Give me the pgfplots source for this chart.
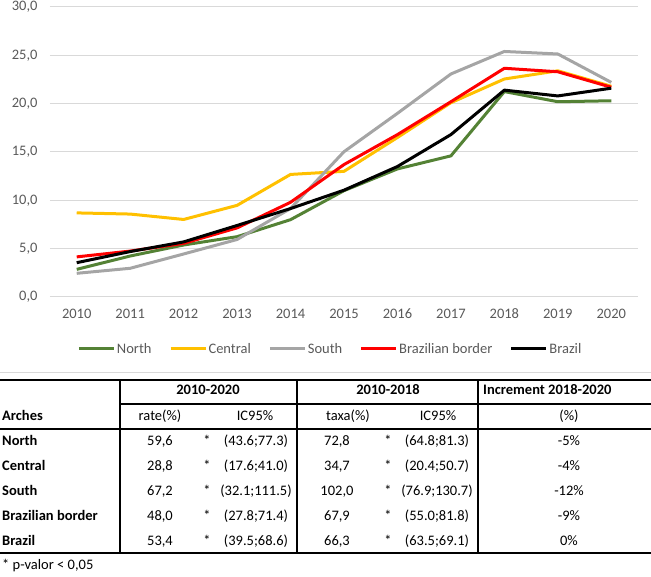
\documentclass[border=0pt]{standalone}
\usepackage{pgfplots}
\pgfplotsset{compat=1.18}
\usepackage{pgfplotstable}
\usepackage{fontspec}
\setmainfont{Carlito}

\definecolor{north}{HTML}{548235}
\definecolor{central}{HTML}{FFC000}
\definecolor{south}{HTML}{A5A5A5}
\definecolor{border}{HTML}{FF0000}
\definecolor{gridc}{HTML}{D9D9D9}
\definecolor{labc}{HTML}{595959}

% years 2010..2020 plotted at 0..10
\pgfplotstableread{
yr north central south border brazil
0  2.86  8.70  2.45  4.15  3.55
1  4.24  8.58  2.97  4.75  4.70
2  5.38  8.02  4.45  5.55  5.70
3  6.24  9.48  5.95  7.15  7.40
4  8.00 12.68  9.15  9.80  9.15
5 11.00 13.00 15.03 13.70 11.05
6 13.25 16.50 19.00 16.80 13.50
7 14.60 20.10 23.07 20.20 16.80
8 21.25 22.55 25.40 23.66 21.40
9 20.20 23.40 25.14 23.30 20.80
10 20.30 21.80 22.20 21.70 21.60
}\chartdata

\newcommand\tf{\fontsize{14.5}{17}\selectfont}
% one table row: y, name, rate, CI, taxa, CI, increment
\newcommand\trow[7]{%
  \node[anchor=mid west] at (2pt,-#1pt) {\bfseries #2};
  \node[anchor=mid] at (160pt,-#1pt) {#3};
  \node[anchor=mid] at (207pt,-#1pt) {*};
  \node[anchor=mid] at (256pt,-#1pt) {#4};
  \node[anchor=mid] at (337pt,-#1pt) {#5};
  \node[anchor=mid] at (388pt,-#1pt) {*};
  \node[anchor=mid] at (437pt,-#1pt) {#6};
  \node[anchor=mid] at (569pt,-#1pt) {#7};
}

\begin{document}
\begin{tikzpicture}
\useasboundingbox (0,0) rectangle (651pt,-577pt);

\begin{axis}[
  at={(50pt,-297pt)}, anchor=south west,
  scale only axis, width=588pt, height=290pt,
  xmin=-0.5, xmax=10.5, ymin=0, ymax=30,
  xtick={0,...,10},
  xticklabels={2010,2011,2012,2013,2014,2015,2016,2017,2018,2019,2020},
  ytick={0,5,...,30},
  ymajorgrids, grid style={gridc, line width=1pt},
  axis line style={draw=none},
  major tick length=0pt,
  /pgf/number format/assume math mode=true,
  yticklabel={\pgfmathprintnumber[fixed,fixed zerofill,precision=1,use comma]{\tick}},
  tick label style={font=\fontsize{14.5}{17}\selectfont, text=labc},
  yticklabel style={xshift=-9pt},
  xticklabel style={yshift=-11pt, text height=1.5ex, text depth=0pt},
  every axis plot/.append style={line width=3pt, line join=round, no marks},
  legend columns=5,
  legend style={draw=none, fill=none, at={(0.4765,-0.179)}, anchor=center,
    font=\fontsize{14.5}{17}\selectfont, text=labc,
    /tikz/every even column/.append style={column sep=16pt},
    nodes={inner sep=1.5pt}},
  legend image code/.code={\draw[#1] (0pt,0pt) -- (35pt,0pt);},
]
\addplot[north] table[x=yr, y=north] {\chartdata};
\addlegendentry{North}
\addplot[central] table[x=yr, y=central] {\chartdata};
\addlegendentry{Central}
\addplot[south] table[x=yr, y=south] {\chartdata};
\addlegendentry{South}
\addplot[border] table[x=yr, y=border] {\chartdata};
\addlegendentry{Brazilian border}
\addplot[black] table[x=yr, y=brazil] {\chartdata};
\addlegendentry{Brazil}
\end{axis}

% table below the chart
\draw[gridc, line width=1pt] (0,-373pt) -- (651pt,-373pt);
\draw[line width=1.4pt] (0,-380pt) -- (651pt,-380pt);
\draw[line width=1.4pt] (120pt,-404pt) -- (651pt,-404pt);
\draw[line width=1.4pt] (0,-429pt) -- (651pt,-429pt);
\draw[line width=1.4pt] (0,-553pt) -- (651pt,-553pt);
\foreach \x in {120,297,478}
  \draw[line width=1.4pt] (\x pt,-380pt) -- (\x pt,-553pt);

\begin{scope}[every node/.style={inner sep=0pt, font=\tf}]
\node[anchor=mid] at (208pt,-392pt) {\bfseries 2010-2020};
\node[anchor=mid] at (388pt,-392pt) {\bfseries 2010-2018};
\node[anchor=mid west] at (483pt,-392pt) {\bfseries Increment 2018-2020};
\node[anchor=mid west] at (2pt,-418pt) {\bfseries Arches};
\node[anchor=mid] at (160pt,-418pt) {rate(\%)};
\node[anchor=mid] at (255pt,-418pt) {IC95\%};
\node[anchor=mid] at (348pt,-418pt) {taxa(\%)};
\node[anchor=mid] at (438pt,-418pt) {IC95\%};
\node[anchor=mid] at (569pt,-418pt) {(\%)};

\trow{443}{North}{59,6}{(43.6;77.3)}{72,8}{(64.8;81.3)}{-5\%}
\trow{468}{Central}{28,8}{(17.6;41.0)}{34,7}{(20.4;50.7)}{-4\%}
\trow{493}{South}{67,2}{(32.1;111.5)}{102,0}{(76.9;130.7)}{-12\%}
\trow{518}{Brazilian border}{48,0}{(27.8;71.4)}{67,9}{(55.0;81.8)}{-9\%}
\trow{543}{Brazil}{53,4}{(39.5;68.6)}{66,3}{(63.5;69.1)}{0\%}

\node[anchor=mid west] at (2pt,-567pt) {* p-valor < 0,05};
\end{scope}
\end{tikzpicture}
\end{document}
